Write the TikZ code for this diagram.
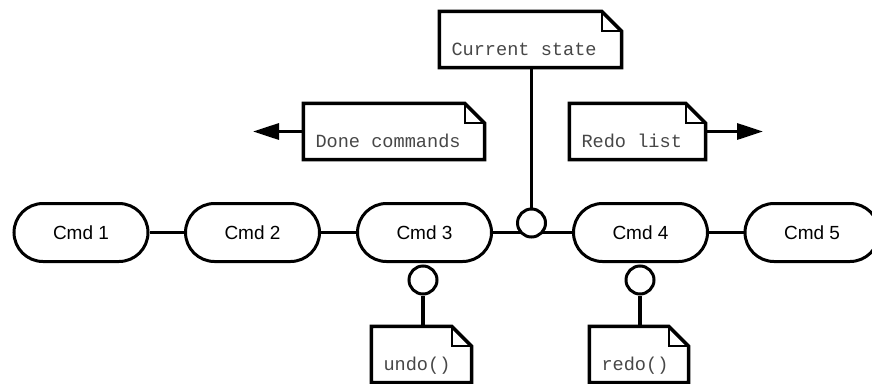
\documentclass[tikz,border=0pt]{standalone}
\usepackage{fontspec}
\setmainfont{Liberation Sans}
\newfontfamily\notefont{Liberation Mono}
\usetikzlibrary{arrows.meta,backgrounds}

% note text: set low and to the left inside a note of given inner width
\newcommand{\notetxt}[2]{\hbox to #1{\raisebox{-16pt}[0pt][0pt]{#2}\hfil}}

\tikzset{
  cmdbox/.style={draw, line width=3pt, rounded corners=29pt,
    minimum width=134pt, minimum height=58pt, inner sep=0pt, fill=white,
    font=\fontsize{19}{22}\selectfont},
  notebox/.style={inner xsep=12pt, inner ysep=0pt, minimum height=56pt,
    text=black!72, font=\notefont\fontsize{18.6}{22}\selectfont},
  noteline/.style={draw, fill=white, line width=3.5pt, line join=miter},
  foldline/.style={draw, line width=1.8pt, line join=miter},
  knob/.style={circle, draw, fill=white, line width=3pt, minimum size=28pt, inner sep=0pt},
  conn/.style={line width=3.3pt},
  flow/.style={line width=3.3pt, -{Triangle[length=26pt,width=16pt]}}
}

\begin{document}
\begin{tikzpicture}[x=1pt,y=-1pt]
  \clip (0,0) rectangle (872,383);
  \useasboundingbox (0,0) rectangle (872,383);

  % notes (outlines drawn first, text on top)
  \node[notebox] (done)     at (394,131.5)   {\notetxt{157pt}{Done commands}};
  \node[notebox] (current)  at (530.5,39.5)  {\notetxt{158pt}{Current state}};
  \node[notebox] (redolist) at (637.5,131.5) {\notetxt{112pt}{Redo list}};
  \node[notebox] (undo)     at (421.5,354.5) {\notetxt{76pt}{undo()}};
  \node[notebox] (redo)     at (639,354.5)   {\notetxt{75pt}{redo()}};

  \begin{scope}[on background layer]
    \foreach \n in {done,current,redolist,undo,redo}{
      \path[noteline] (\n.north west) -- ([xshift=-20pt]\n.north east)
        -- ([yshift=-20pt]\n.north east) -- (\n.south east)
        -- (\n.south west) -- cycle;
      \path[foldline] ([xshift=-20pt]\n.north east)
        -- ([xshift=-20pt,yshift=-20pt]\n.north east)
        -- ([yshift=-20pt]\n.north east);
    }
  \end{scope}

  % command history
  \node[cmdbox] (c1) at (81,232.5)  {Cmd 1};
  \node[cmdbox] (c2) at (252.5,232.5) {Cmd 2};
  \node[cmdbox] (c3) at (424.5,232.5) {Cmd 3};
  \node[cmdbox] (c4) at (640.5,232.5) {Cmd 4};
  \node[cmdbox] (c5) at (812,232.5) {Cmd 5};

  % interface knobs
  \node[knob] (junc)  at (531.5,223) {};
  \node[knob] (uknob) at (423,280) {};
  \node[knob] (rknob) at (640,280) {};

  \coordinate (doneend) at (253,131.5);
  \coordinate (redoend) at (763,131.5);

  \begin{scope}[on background layer]
    \draw[conn] (c1.east) -- (c2.west);
    \draw[conn] (c2.east) -- (c3.west);
    \draw[conn] (c3.east) -- (c4.west);
    \draw[conn] (c4.east) -- (c5.west);
  \end{scope}
  \draw[conn] (current.south -| junc) -- (junc.north);
  \draw[conn] (uknob.south) -- (uknob.south |- undo.north);
  \draw[conn] (rknob.south) -- (rknob.south |- redo.north);
  \draw[flow] (done.west) -- (doneend);
  \draw[flow] (redolist.east) -- (redoend);
\end{tikzpicture}
\end{document}
